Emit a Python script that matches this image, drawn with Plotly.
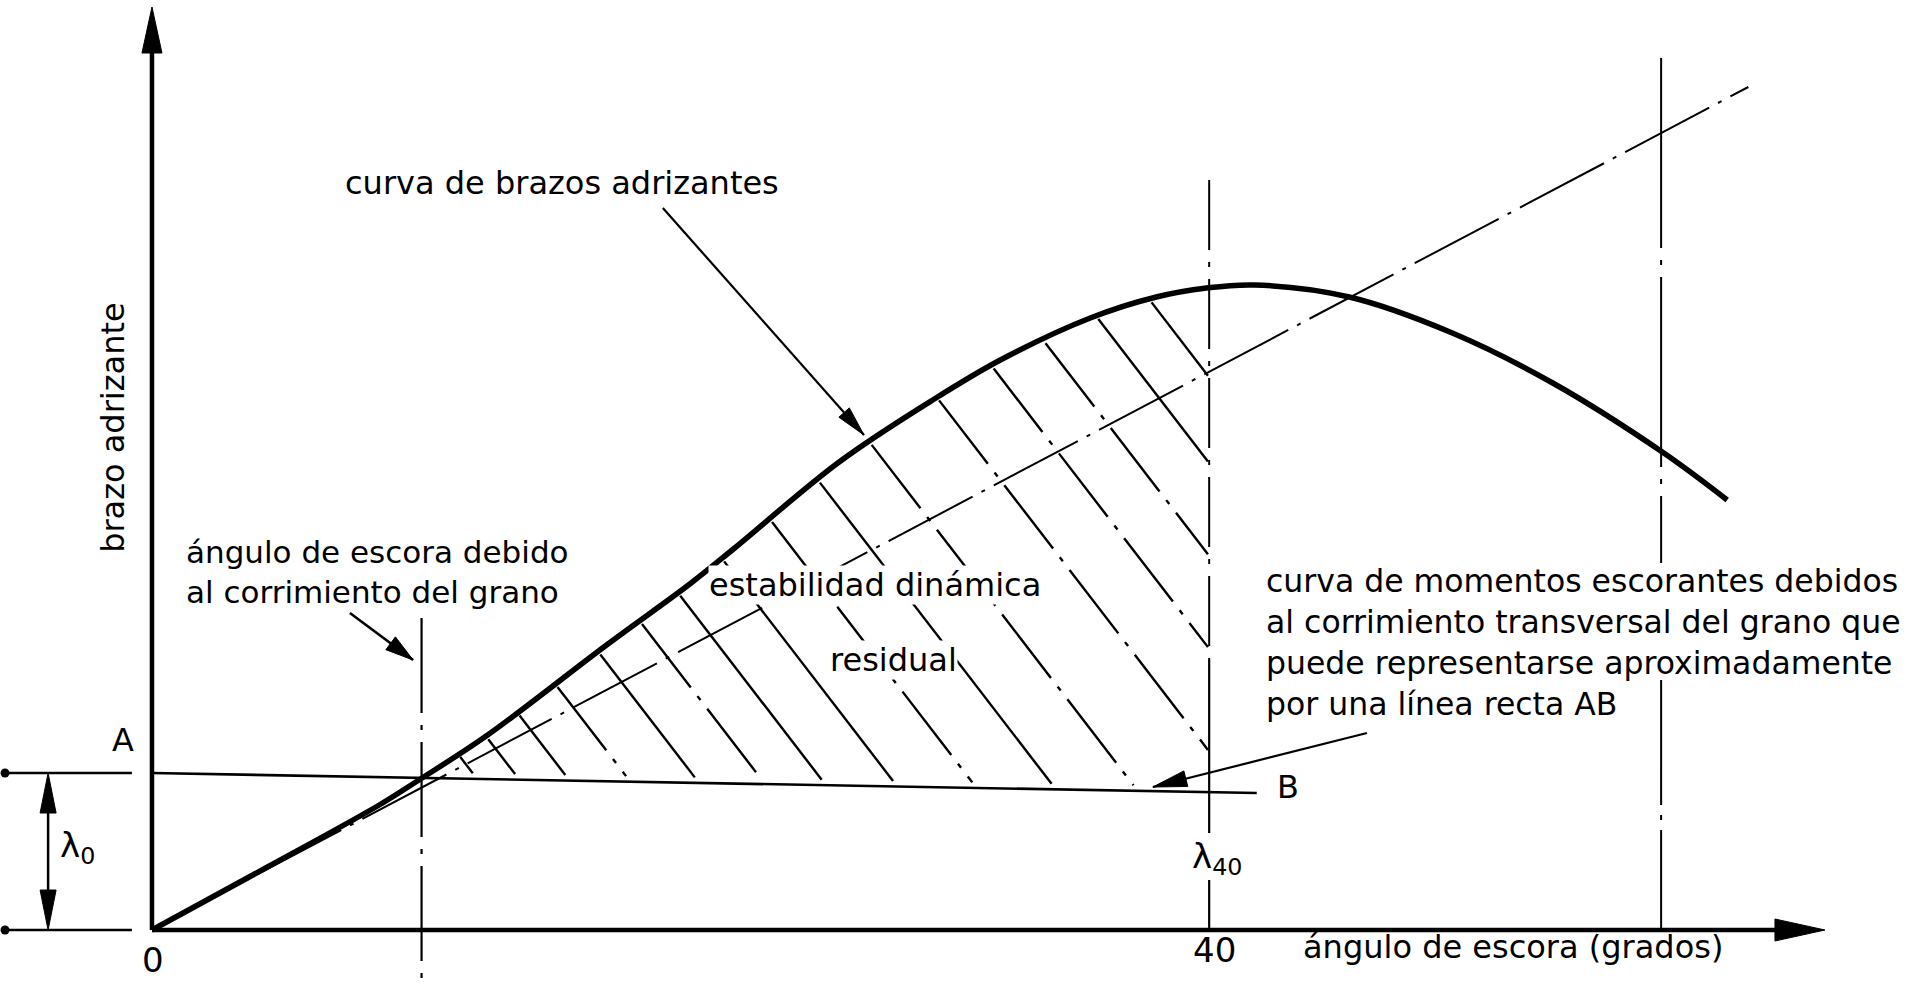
import numpy as np
import plotly.graph_objects as go

# ---------------- data ----------------
# righting-arm curve (angle in degrees, arm in arbitrary units)
gz_deg = [0, 4.3, 8.6, 10.1, 12.7, 17.2, 20.4, 22.0, 26.0, 29.6, 32.1,
          35.5, 38.0, 39.9, 41.7, 45.3, 49.2, 53.0, 57.2, 59.6]
gz_val = [0, 0.062, 0.125, 0.150, 0.195, 0.285, 0.347, 0.381, 0.468, 0.531, 0.570,
          0.612, 0.633, 0.642, 0.645, 0.633, 0.597, 0.547, 0.477, 0.430]

# heeling-arm line A-B (grain shift)
ab_deg = [0.0, 41.8]
ab_val = [0.157, 0.137]

# auxiliary dash-dot straight line from the origin
aux_deg = [0.0, 60.4]
aux_val = [0.0, 0.843]

# vertical reference angles
shift_deg = 10.2     # heel angle due to grain shift
lim_deg = 40.0       # 40 degrees
max_deg = 57.1       # right vertical

# hatching of the residual dynamic stability area
# (foot of every hatch line on line AB, extended past 40 deg, in degrees)
hatch_base_deg = [12.3, 13.9, 15.8, 18.1, 20.7, 23.2, 25.5, 28.2, 31.2, 34.2,
                  37.3, 41.2, 44.2, 46.9, 49.6, 52.1]
hatch_style = ['solid', 'dashdot', 'solid', 'dashdot', 'solid', 'dashdot',
               'solid', 'solid', 'dashdot', 'solid', 'dashdot', 'dashdot',
               'dashdot', 'dashdot', 'solid', 'solid']

# ---------------- figure geometry ----------------
W, H = 1927, 988
X_RANGE = [-5.75, 67.16]
Y_RANGE = [-0.058, 0.930]
PX_X = W / (X_RANGE[1] - X_RANGE[0])
PX_Y = H / (Y_RANGE[1] - Y_RANGE[0])
FONT = "DejaVu Sans"
FS = 32

fig = go.Figure()


def line(xs, ys, width=2.0, dash='solid'):
    fig.add_trace(go.Scatter(x=list(xs), y=list(ys), mode='lines',
                             line=dict(color='black', width=width, dash=dash),
                             hoverinfo='skip', showlegend=False))


def head(tx, ty, fx, fy, length, half):
    """filled triangular arrow head with tip (tx,ty) coming from (fx,fy); sizes in px"""
    dx = (tx - fx) * PX_X
    dy = (ty - fy) * PX_Y
    n = np.hypot(dx, dy)
    ux, uy = dx / n, dy / n
    tpx, tpy = tx * PX_X, ty * PX_Y
    bx, by = tpx - ux * length, tpy - uy * length
    px_, py_ = -uy, ux
    xs = [tpx, bx + px_ * half, bx - px_ * half, tpx]
    ys = [tpy, by + py_ * half, by - py_ * half, tpy]
    fig.add_trace(go.Scatter(x=[v / PX_X for v in xs], y=[v / PX_Y for v in ys],
                             mode='lines', fill='toself', fillcolor='black',
                             line=dict(color='black', width=1),
                             hoverinfo='skip', showlegend=False))


def leader(fx, fy, tx, ty, length=30, half=7, width=2.2):
    line([fx, tx], [fy, ty], width=width)
    head(tx, ty, fx, fy, length, half)


# ---------------- axes ----------------
y_top = 0.923
x_end = 63.3
line([0, 0], [0, y_top - 0.02], width=4.5)
head(0, y_top, 0, 0, 46, 10)
line([0, x_end - 1.0], [0, 0], width=4.5)
head(x_end, 0, 0, 0, 50, 11)

# extension lines for lambda_0 dimension
ext_x = [-5.56, -0.76]
a_val = ab_val[0]
line(ext_x, [0, 0], width=2.5)
line(ext_x, [a_val, a_val], width=2.5)
fig.add_trace(go.Scatter(x=[ext_x[0], ext_x[0]], y=[0, a_val], mode='markers',
                         marker=dict(color='black', size=9, symbol='circle'),
                         hoverinfo='skip', showlegend=False))
dim_x = -3.93
line([dim_x, dim_x], [0.03, a_val - 0.03], width=2.5)
head(dim_x, a_val, dim_x, 0, 40, 8)
head(dim_x, 0, dim_x, a_val, 40, 8)

# ---------------- hatching ----------------
gzx_f = np.array(gz_deg, float)
gzy_f = np.array(gz_val, float)
slope = 1.30
nrm = np.hypot(1.0, slope)
sol_x, sol_y, dd_x, dd_y = [], [], [], []
for xb, st in zip(hatch_base_deg, hatch_style):
    yb = float(np.interp(xb, ab_deg, ab_val))
    s = np.arange(0, 1200, 0.5)
    xs = xb - (1.0 / nrm) * s / PX_X
    ys = yb + (slope / nrm) * s / PX_Y
    s0 = 7.0
    if xb > lim_deg:
        s0 = (xb - lim_deg) * PX_X * nrm + 2
    above = ys >= np.interp(xs, gzx_f, gzy_f)
    idx = int(np.argmax(above))
    s1 = s[idx] - 4
    if s1 <= s0:
        continue
    x_top = xb - (1.0 / nrm) * s1 / PX_X
    y_top_h = yb + (slope / nrm) * s1 / PX_Y
    x_bot = xb - (1.0 / nrm) * s0 / PX_X
    y_bot = yb + (slope / nrm) * s0 / PX_Y
    if st == 'solid':
        sol_x += [x_top, x_bot, None]
        sol_y += [y_top_h, y_bot, None]
    else:
        dd_x += [x_top, x_bot, None]
        dd_y += [y_top_h, y_bot, None]
line(sol_x, sol_y, width=2.4)
line(dd_x, dd_y, width=2.4, dash='80px,11px,5px,11px')

# ---------------- lines ----------------
# auxiliary straight dash-dot line
line(aux_deg, aux_val, width=2.0, dash='95px,10px,4px,10px')
# A-B heeling arm line
line([0, ab_deg[1]], ab_val, width=2.6)

# verticals
line([shift_deg, shift_deg], [0.312, -0.050], width=2.2, dash='95px,12px,5px,12px')
line([lim_deg, lim_deg], [0.750, 0.27], width=2.0, dash='70px,12px,5px,12px')
line([lim_deg, lim_deg], [0.27, 0.097], width=2.2)
line([lim_deg, lim_deg], [0.050, 0], width=2.2)
line([max_deg, max_deg], [0.872, 0.367], width=2.0, dash='190px,12px,5px,12px')
line([max_deg, max_deg], [0.250, 0], width=2.0, dash='125px,10px,5px,10px')

# righting-arm curve
fig.add_trace(go.Scatter(x=gz_deg, y=gz_val, mode='lines',
                         line=dict(color='black', width=5.5, shape='spline', smoothing=1.0),
                         hoverinfo='skip', showlegend=False))

# leaders
leader(19.33, 0.722, 26.94, 0.495)
leader(7.49, 0.317, 9.88, 0.270, length=28, half=8, width=2.6)
leader(45.97, 0.197, 37.87, 0.143, length=34, half=8)

# ---------------- texts ----------------
def txt(x, y, s, xanchor='center', size=FS, angle=0, align='center', bg=None):
    fig.add_annotation(x=x, y=y, xref='x', yref='y', text=s, showarrow=False,
                       xanchor=xanchor, yanchor='middle', textangle=angle, align=align,
                       font=dict(family=FONT, size=size, color='black'),
                       bgcolor=bg, borderpad=0)

txt(7.26, 0.747, "curva de brazos adrizantes", xanchor='left')
txt(-1.48, 0.503, "brazo adrizante", angle=-90)
txt(1.25, 0.358, "ángulo de escora debido<br>al corrimiento del grano", xanchor='left', align='left', size=31)
txt(-1.10, 0.190, "A", size=32)
txt(-2.80, 0.083, "λ<sub>0</sub>", size=34)
txt(0.04, -0.030, "0", size=34)
txt(40.22, -0.020, "40", size=34)
txt(39.3, 0.072, "λ<sub>40</sub>", xanchor='left', size=34)
txt(42.98, 0.143, "B", size=32)
txt(43.51, -0.017, "ángulo de escora (grados)", xanchor='left')
txt(42.10, 0.288, "curva de momentos escorantes debidos<br>al corrimiento transversal del grano que<br>"
                  "puede representarse aproximadamente<br>por una línea recta AB",
    xanchor='left', align='left', size=31.5)
txt(27.36, 0.345, "estabilidad dinámica", bg='white')
txt(28.07, 0.270, "residual", bg='white')

fig.update_layout(
    width=W, height=H,
    margin=dict(l=0, r=0, t=0, b=0, pad=0),
    paper_bgcolor='white', plot_bgcolor='white',
    showlegend=False,
    xaxis=dict(range=X_RANGE, visible=False, fixedrange=True),
    yaxis=dict(range=Y_RANGE, visible=False, fixedrange=True),
)

fig.write_html("out.html", config={'displayModeBar': False},
               post_script="document.body.style.margin='0';document.body.style.overflow='hidden';")
